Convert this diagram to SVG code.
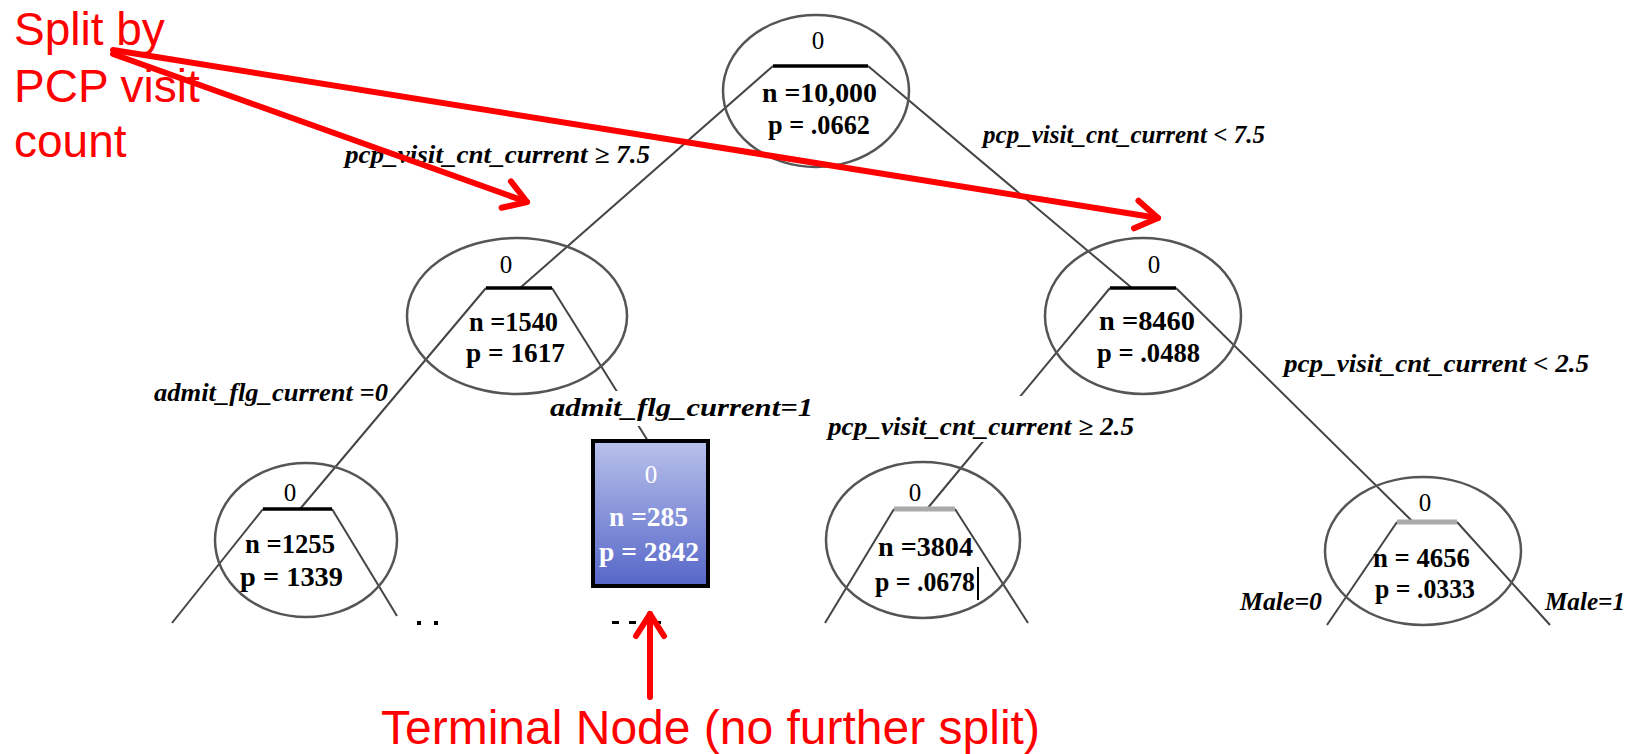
<svg xmlns="http://www.w3.org/2000/svg" width="1635" height="754" viewBox="0 0 1635 754">
<defs>
<style>
.ell{fill:none;stroke:#555;stroke-width:2.5}
.bar{stroke:#000;stroke-width:3.5}
.gbar{stroke:#aaa;stroke-width:5}
.con{stroke:#444;stroke-width:2;fill:none}
.zero{font-family:"Liberation Serif",serif;font-size:25px;text-anchor:middle;fill:#000}
.nt{font-family:"Liberation Serif",serif;font-size:27px;font-weight:bold;fill:#000}
.lbl{font-family:"Liberation Serif",serif;font-size:25px;font-style:italic;font-weight:bold;fill:#000}
.tt{font-family:"Liberation Serif",serif;font-size:27px;font-weight:bold;fill:#fff}
.red{font-family:"Liberation Sans",Arial,sans-serif;fill:#ff0000}
.rl{stroke:#ff0000;stroke-width:6;fill:none;stroke-linecap:round}
</style>
<linearGradient id="tg" x1="0" y1="0" x2="0" y2="1">
<stop offset="0" stop-color="#b9c1eb"/>
<stop offset="1" stop-color="#5666c9"/>
</linearGradient>
<marker id="chev" markerUnits="userSpaceOnUse" viewBox="-30 -20 40 40" markerWidth="40" markerHeight="40" refX="0" refY="0" orient="auto">
<path d="M-22,-14 L0,0 L-22,14" fill="none" stroke="#ff0000" stroke-width="6" stroke-linecap="round" stroke-linejoin="round"/>
</marker>
</defs>
<rect width="1635" height="754" fill="#fff"/>

<g id="connectors">
<line class="con" x1="773" y1="66" x2="520" y2="288"/>
<line class="con" x1="868" y1="66" x2="1132" y2="288"/>
<line class="con" x1="486" y1="288" x2="300" y2="509"/>
<line class="con" x1="552" y1="288" x2="648" y2="441"/>
<line class="con" x1="1110" y1="288" x2="927" y2="509"/>
<line class="con" x1="1176" y1="288" x2="1413" y2="522"/>
<line class="con" x1="263" y1="509" x2="172" y2="623"/>
<line class="con" x1="332" y1="509" x2="397" y2="616"/>
<line class="con" x1="894" y1="509" x2="825" y2="623"/>
<line class="con" x1="955" y1="509" x2="1028" y2="623"/>
<line class="con" x1="1397" y1="522" x2="1327" y2="625"/>
<line class="con" x1="1457" y1="522" x2="1550" y2="625"/>
</g>

<g id="edge-labels">
<text class="lbl" x="345" y="163" textLength="305" lengthAdjust="spacingAndGlyphs">pcp_visit_cnt_current  ≥ 7.5</text>
<text class="lbl" x="983" y="143" textLength="282" lengthAdjust="spacingAndGlyphs">pcp_visit_cnt_current  &lt; 7.5</text>
<text class="lbl" x="154" y="401" textLength="234" lengthAdjust="spacingAndGlyphs">admit_flg_current =0</text>
<rect x="546" y="391" width="270" height="35" fill="#fff"/>
<text class="lbl" x="550" y="416" textLength="263" lengthAdjust="spacingAndGlyphs">admit_flg_current=1</text>
<rect x="824" y="396" width="314" height="46" fill="#fff"/>
<text class="lbl" x="828" y="435" textLength="306" lengthAdjust="spacingAndGlyphs">pcp_visit_cnt_current  ≥ 2.5</text>
<text class="lbl" x="1284" y="372" textLength="305" lengthAdjust="spacingAndGlyphs">pcp_visit_cnt_current  &lt; 2.5</text>
<text class="lbl" x="1240" y="610" textLength="82" lengthAdjust="spacingAndGlyphs">Male=0</text>
<text class="lbl" x="1545" y="610" textLength="80" lengthAdjust="spacingAndGlyphs">Male=1</text>
</g>

<g id="node-root">
<ellipse class="ell" cx="816" cy="91" rx="93" ry="76"/>
<line class="bar" x1="773" y1="66" x2="868" y2="66"/>
<text class="zero" x="818" y="49">0</text>
<text class="nt" x="762" y="102" textLength="115" lengthAdjust="spacingAndGlyphs">n =10,000</text>
<text class="nt" x="768" y="134" textLength="102" lengthAdjust="spacingAndGlyphs">p = .0662</text>
</g>

<g id="node-left">
<ellipse class="ell" cx="517" cy="316" rx="110" ry="78"/>
<line class="bar" x1="486" y1="288" x2="552" y2="288"/>
<text class="zero" x="506" y="273">0</text>
<text class="nt" x="469" y="331" textLength="89" lengthAdjust="spacingAndGlyphs">n =1540</text>
<text class="nt" x="466" y="362" textLength="99" lengthAdjust="spacingAndGlyphs">p = 1617</text>
</g>

<g id="node-left-left">
<ellipse class="ell" cx="306" cy="540" rx="91" ry="77"/>
<line class="bar" x1="263" y1="509" x2="332" y2="509"/>
<text class="zero" x="290" y="501">0</text>
<text class="nt" x="245" y="553" textLength="90" lengthAdjust="spacingAndGlyphs">n =1255</text>
<text class="nt" x="240" y="586" textLength="103" lengthAdjust="spacingAndGlyphs">p = 1339</text>
<rect x="417" y="621" width="4" height="4" fill="#000"/>
<rect x="434" y="621" width="4" height="4" fill="#000"/>
</g>

<g id="node-terminal">
<rect x="593" y="441" width="115" height="145" fill="url(#tg)" stroke="#000" stroke-width="4"/>
<text class="tt" x="651" y="483" text-anchor="middle" style="font-weight:normal;font-size:25px">0</text>
<text class="tt" x="609" y="526" textLength="79" lengthAdjust="spacingAndGlyphs">n =285</text>
<text class="tt" x="599" y="561" textLength="100" lengthAdjust="spacingAndGlyphs">p = 2842</text>
<rect x="612" y="621" width="7" height="3" fill="#000"/>
<rect x="629" y="621" width="7" height="3" fill="#000"/>
<rect x="654" y="621" width="7" height="3" fill="#000"/>
</g>

<g id="node-right">
<ellipse class="ell" cx="1143" cy="316" rx="98" ry="78"/>
<line class="bar" x1="1110" y1="288" x2="1176" y2="288"/>
<text class="zero" x="1154" y="273">0</text>
<text class="nt" x="1099" y="330" textLength="96" lengthAdjust="spacingAndGlyphs">n =8460</text>
<text class="nt" x="1097" y="362" textLength="103" lengthAdjust="spacingAndGlyphs">p = .0488</text>
</g>

<g id="node-right-left">
<ellipse class="ell" cx="923" cy="540" rx="97" ry="78"/>
<line class="gbar" x1="894" y1="509" x2="955" y2="509"/>
<text class="zero" x="915" y="501">0</text>
<text class="nt" x="878" y="556" textLength="95" lengthAdjust="spacingAndGlyphs">n =3804</text>
<text class="nt" x="875" y="591" textLength="100" lengthAdjust="spacingAndGlyphs">p = .0678</text>
<line x1="978" y1="567" x2="978" y2="600" stroke="#000" stroke-width="2"/>
</g>

<g id="node-right-right">
<ellipse class="ell" cx="1423" cy="551" rx="98" ry="74"/>
<line class="gbar" x1="1397" y1="522" x2="1457" y2="522"/>
<text class="zero" x="1425" y="511">0</text>
<text class="nt" x="1373" y="567" textLength="97" lengthAdjust="spacingAndGlyphs">n = 4656</text>
<text class="nt" x="1375" y="598" textLength="100" lengthAdjust="spacingAndGlyphs">p = .0333</text>
</g>

<g id="annotations">
<text class="red" font-size="46" x="14" y="45">Split by</text>
<text class="red" font-size="46" x="14" y="102">PCP visit</text>
<text class="red" font-size="46" x="14" y="157">count</text>
<line class="rl" x1="113" y1="54" x2="527" y2="202" marker-end="url(#chev)"/>
<line class="rl" x1="113" y1="50" x2="1158" y2="218" marker-end="url(#chev)"/>
<line class="rl" x1="650" y1="697" x2="650" y2="614" marker-end="url(#chev)"/>
<text class="red" font-size="48" x="381" y="744">Terminal Node (no further split)</text>
</g>
</svg>
